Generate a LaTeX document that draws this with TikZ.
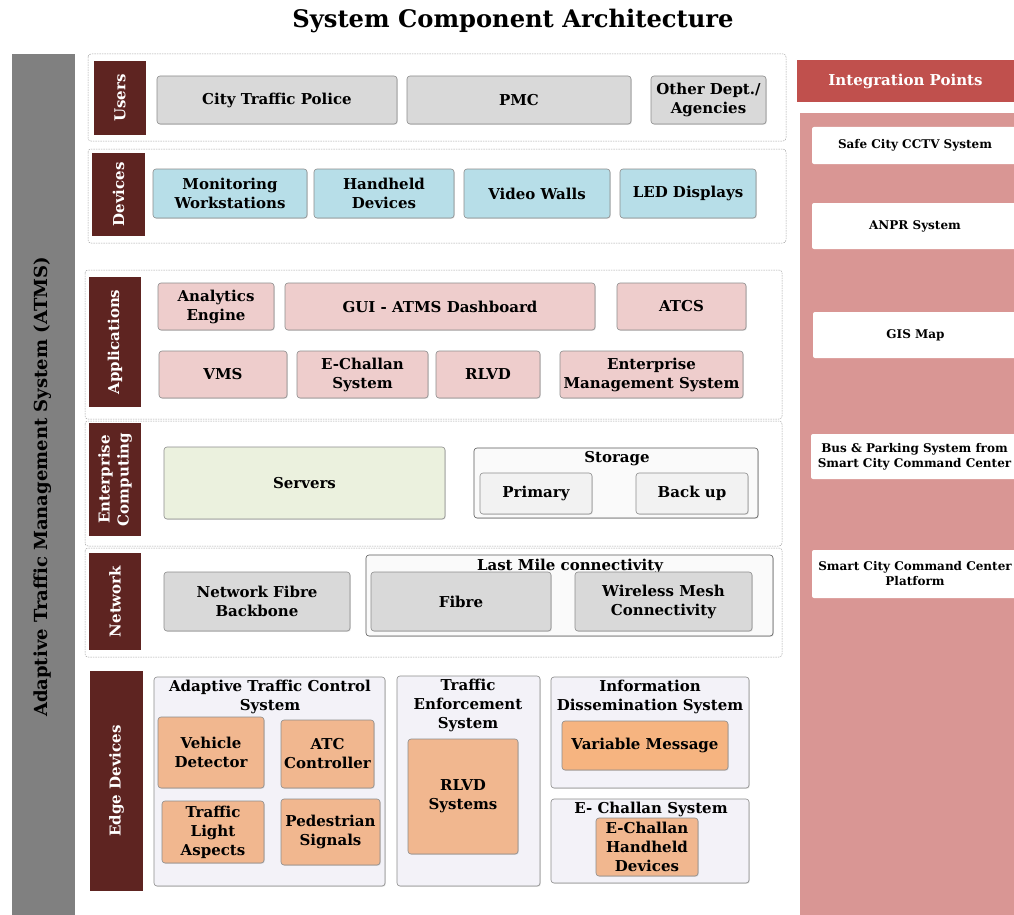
\documentclass[tikz,border=0pt]{standalone}
\usepackage{fontspec}
\setmainfont{DejaVu Serif}
\usetikzlibrary{shadows}
\definecolor{cLab}{RGB}{94,36,33}
\definecolor{cBar}{RGB}{128,128,128}
\definecolor{cUser}{RGB}{217,217,217}
\definecolor{cDev}{RGB}{183,222,232}
\definecolor{cApp}{RGB}{238,205,204}
\definecolor{cSrv}{RGB}{235,241,222}
\definecolor{cSto}{RGB}{242,242,242}
\definecolor{cCont}{RGB}{243,242,248}
\definecolor{cPeach}{RGB}{241,183,143}
\definecolor{cOrange}{RGB}{246,180,128}
\definecolor{cHead}{RGB}{192,80,77}
\definecolor{cPanel}{RGB}{217,150,148}
\newcommand\bx[7]{\node[#2, minimum width={(#5)-(#3)}, minimum height={(#6)-(#4)}] (#1) at ({((#3)+(#5))/2},{((#4)+(#6))/2}) {#7};}
\newcommand\vl[6]{\node[lab, minimum width={(#5)-(#3)}, minimum height={(#4)-(#2)}] (#1) at ({((#2)+(#4))/2},{((#3)+(#5))/2}) {#6};}
\newcommand\ttl[4]{\node[font=\bfseries\fontsize{15}{19}\selectfont, align=center, inner sep=0pt] (#1) at (#2,#3) {#4};}
\begin{document}
\begin{tikzpicture}[x=1pt,y=-1pt,
  every node/.style={font=\bfseries\fontsize{15}{19}\selectfont, align=center, inner sep=0pt},
  base/.style={draw=black!45, line width=0.6pt, rounded corners=3pt,
    drop shadow={opacity=0.25, shadow xshift=0.8pt, shadow yshift=-0.8pt}},
  usr/.style={base, fill=cUser},
  dev/.style={base, fill=cDev},
  app/.style={base, fill=cApp},
  srv/.style={base, fill=cSrv},
  sto/.style={base, fill=cSto},
  cont/.style={base, fill=cCont},
  stocont/.style={base, draw=black!65, fill=white!98!black},
  peach/.style={base, fill=cPeach},
  orng/.style={base, fill=cOrange},
  wbox/.style={fill=white, rounded corners=2pt, font=\bfseries\fontsize{12}{15}\selectfont},
  lab/.style={fill=cLab, text=white, rotate=90},
  layer/.style={draw=black!35, dash pattern=on 1.5pt off 1pt, rounded corners=3pt, line width=0.5pt}
]
\useasboundingbox (0,0) rectangle (1014,915);
\fill[white] (0,0) rectangle (1014,915);

% title
\node[font=\bfseries\fontsize{24.2}{28}\selectfont] (title) at (513,21) {System Component Architecture};

% left bar
\node[fill=cBar, minimum width=63, minimum height=861, anchor=north west] (bar) at (12,54) {};
\node[rotate=90, font=\bfseries\fontsize{18}{22}\selectfont] (bartext) at (43,487) {Adaptive Traffic Management System (ATMS)};

% layer frames
\draw[layer] (88,54) rectangle (786,141);
\draw[layer] (88,149) rectangle (786,243);
\draw[layer] (85,270) rectangle (782,419);
\draw[layer] (85,421) rectangle (782,546);
\draw[layer] (85,548) rectangle (782,657);

% labels
\vl{lUsers}{94}{61}{146}{135}{Users}
\vl{lDev}{92}{153}{145}{236}{Devices}
\vl{lApp}{89}{277}{141}{407}{Applications}
\vl{lEnt}{89}{423}{141}{536}{Enterprise\\Computing}
\vl{lNet}{89}{553}{141}{650}{Network}
\vl{lEdge}{90}{671}{143}{891}{Edge Devices}

% users
\bx{ctp}{usr}{157}{76}{397}{124}{City Traffic Police}
\bx{pmc}{usr}{407}{76}{631}{124}{PMC}
\bx{oth}{usr}{651}{76}{766}{124}{Other Dept./\\Agencies}

% devices
\bx{mw}{dev}{153}{169}{307}{218}{Monitoring\\Workstations}
\bx{hd}{dev}{314}{169}{454}{218}{Handheld\\Devices}
\bx{vw}{dev}{464}{169}{610}{218}{Video Walls}
\bx{led}{dev}{620}{169}{756}{218}{LED Displays}

% applications
\bx{ae}{app}{158}{283}{274}{330}{Analytics\\Engine}
\bx{gui}{app}{285}{283}{595}{330}{GUI - ATMS Dashboard}
\bx{atcs}{app}{617}{283}{746}{330}{ATCS}
\bx{vms}{app}{159}{351}{287}{398}{VMS}
\bx{ech}{app}{297}{351}{428}{398}{E-Challan\\System}
\bx{rlvd}{app}{436}{351}{540}{398}{RLVD}
\bx{ems}{app}{560}{351}{743}{398}{Enterprise\\Management System}

% enterprise computing
\bx{srv}{srv}{164}{447}{445}{519}{Servers}
\bx{stor}{stocont}{474}{448}{758}{518}{}
\ttl{storT}{617}{459}{Storage}
\bx{prim}{sto}{480}{473}{592}{514}{Primary}
\bx{back}{sto}{636}{473}{748}{514}{Back up}

% network
\bx{nfb}{usr}{164}{572}{350}{631}{Network Fibre\\Backbone}
\bx{lm}{stocont}{366}{555}{773}{636}{}
\ttl{lmT}{570}{566}{Last Mile connectivity}
\bx{fib}{usr}{371}{572}{551}{631}{Fibre}
\bx{wm}{usr}{575}{572}{752}{631}{Wireless Mesh\\Connectivity}

% edge devices
\bx{atc}{cont}{154}{677}{385}{886}{}
\ttl{atcT}{270}{697}{Adaptive Traffic Control\\System}
\bx{vd}{peach}{158}{717}{264}{788}{Vehicle\\Detector}
\bx{atcc}{peach}{281}{720}{374}{788}{ATC\\Controller}
\bx{tla}{peach}{162}{801}{264}{863}{Traffic\\Light\\Aspects}
\bx{ped}{peach}{281}{799}{380}{865}{Pedestrian\\Signals}

\bx{tes}{cont}{397}{676}{540}{886}{}
\ttl{tesT}{468}{705}{Traffic\\Enforcement\\System}
\bx{rlvds}{peach}{408}{739}{518}{854}{RLVD\\Systems}

\bx{ids}{cont}{551}{677}{749}{788}{}
\ttl{idsT}{650}{697}{Information\\Dissemination System}
\bx{vm}{orng}{562}{721}{728}{770}{Variable Message}

\bx{ecs}{cont}{551}{799}{749}{883}{}
\ttl{ecsT}{651}{809}{E- Challan System}
\bx{echd}{peach}{596}{818}{698}{876}{E-Challan\\Handheld\\Devices}

% integration points
\bx{ip}{fill=cHead, text=white, font=\bfseries\fontsize{15}{19}\selectfont}{797}{60}{1014}{102}{Integration Points}
\bx{panel}{fill=cPanel}{800}{113}{1014}{915}{}
\bx{cctv}{wbox}{812}{127}{1018}{164}{Safe City CCTV System}
\bx{anpr}{wbox}{812}{203}{1018}{249}{ANPR System}
\bx{gis}{wbox}{813}{312}{1018}{358}{GIS Map}
\bx{bus}{wbox}{811}{434}{1018}{479}{Bus \& Parking System from\\Smart City Command Center}
\bx{sccc}{wbox}{812}{550}{1018}{598}{Smart City Command Center\\Platform}
\end{tikzpicture}
\end{document}
